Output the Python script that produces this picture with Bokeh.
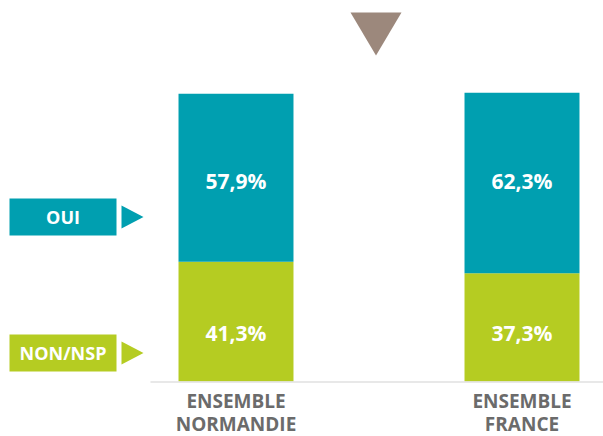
from bokeh.plotting import figure
from bokeh.models import Range1d
from bokeh.core.properties import value
from bokeh.embed import file_html
from bokeh.resources import INLINE

categories = ["ENSEMBLE NORMANDIE", "ENSEMBLE FRANCE"]
cat_line1 = ["ENSEMBLE", "ENSEMBLE"]
cat_line2 = ["NORMANDIE", "FRANCE"]
oui = [57.9, 62.3]
non_nsp = [41.3, 37.3]
oui_labels = ["57,9%", "62,3%"]
non_labels = ["41,3%", "37,3%"]
legend_labels = ["OUI", "NON/NSP"]

TEAL = "#009fb0"
GREEN = "#b5cc22"
GREY_TXT = "#6b6b6b"
TRI = "#9c887c"
FONT = value("Open Sans")

# mapping helpers from reference-pixel layout positions to data space
def px(x):
    return (x - 235.5) / 286.0

def py(y):
    return (381.0 - y) / 2.9

W, H = 603, 436
p = figure(width=W, height=H, output_backend="svg", toolbar_location=None,
           x_range=Range1d(px(0), px(W)), y_range=Range1d(py(H), py(0)),
           min_border=0, outline_line_color=None)
p.axis.visible = False
p.grid.visible = False
p.background_fill_color = "white"
p.border_fill_color = "white"

xs = list(range(len(categories)))
tops = [n + o for n, o in zip(non_nsp, oui)]

# stacked bars
p.vbar(x=xs, bottom=0, top=non_nsp, width=0.402, fill_color=GREEN, line_color=None)
p.vbar(x=xs, bottom=non_nsp, top=tops, width=0.402, fill_color=TEAL, line_color=None)

# baseline
p.segment(x0=[px(150)], y0=[py(381.5)], x1=[px(603)], y1=[py(381.5)],
          line_color="#e0e0e0", line_width=1.5)

# value labels
p.text(x=xs, y=[py(180)] * len(xs), text=oui_labels, text_color="white", text_font=FONT,
       text_font_style="bold", text_font_size="21px", text_align="center",
       text_baseline="middle")
p.text(x=xs, y=[py(332)] * len(xs), text=non_labels, text_color="white", text_font=FONT,
       text_font_style="bold", text_font_size="21px", text_align="center",
       text_baseline="middle")

# category labels (two lines)
p.text(x=xs, y=[py(400)] * len(xs), text=cat_line1, text_color=GREY_TXT, text_font=FONT,
       text_font_style="bold", text_font_size="19px", text_align="center",
       text_baseline="middle")
p.text(x=xs, y=[py(423)] * len(xs), text=cat_line2, text_color=GREY_TXT, text_font=FONT,
       text_font_style="bold", text_font_size="19px", text_align="center",
       text_baseline="middle")

# top triangle marker
p.patch(x=[px(350), px(401), px(375.5)], y=[py(12), py(12), py(55)],
        fill_color=TRI, line_color=None)

# legend boxes
box_tops = [198, 334]
box_bottoms = [235, 371]
box_colors = [TEAL, GREEN]
p.quad(left=[px(9)] * 2, right=[px(116)] * 2,
       top=[py(t) for t in box_tops], bottom=[py(b) for b in box_bottoms],
       fill_color=box_colors, line_color=None)
p.text(x=[px(62.5)] * 2, y=[py((t + b) / 2) for t, b in zip(box_tops, box_bottoms)],
       text=legend_labels, text_color="white", text_font=FONT, text_font_style="bold",
       text_font_size="18px", text_align="center", text_baseline="middle")
for t, b, c in zip(box_tops, box_bottoms, box_colors):
    p.patch(x=[px(121), px(143), px(121)], y=[py(t + 7), py((t + b) / 2), py(b - 7)],
            fill_color=c, line_color=None)

open("out.html", "w").write(file_html(p, INLINE))
